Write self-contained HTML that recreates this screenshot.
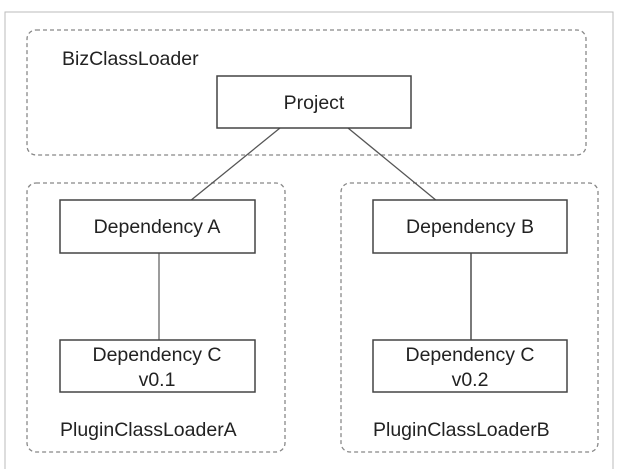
<!DOCTYPE html>
<html><head><style>
html,body{margin:0;padding:0;background:#fff;}
svg{display:block;}
text{font-family:"Liberation Sans",sans-serif;font-size:19.5px;fill:#222;}
</style></head><body>
<svg width="618" height="469" viewBox="0 0 618 469">
<rect x="5" y="12" width="608" height="460" fill="#fff" stroke="#bbb" stroke-width="1"/>
<rect x="27" y="30" width="559" height="125" rx="9" fill="none" stroke="#888" stroke-width="1.3" stroke-dasharray="4,3"/>
<rect x="27" y="183" width="258" height="269" rx="9" fill="none" stroke="#888" stroke-width="1.3" stroke-dasharray="4,3"/>
<rect x="341" y="183" width="257" height="269" rx="9" fill="none" stroke="#888" stroke-width="1.3" stroke-dasharray="4,3"/>
<text x="62" y="65">BizClassLoader</text>
<line x1="280" y1="128" x2="190" y2="201" stroke="#555" stroke-width="1.3"/>
<line x1="348" y1="128" x2="437" y2="201" stroke="#555" stroke-width="1.3"/>
<line x1="159" y1="253" x2="159" y2="340" stroke="#666" stroke-width="1.3"/>
<line x1="471" y1="253" x2="471" y2="340" stroke="#333" stroke-width="1.3"/>
<rect x="217" y="76" width="194" height="52" fill="#fff" stroke="#444" stroke-width="1.5"/>
<text x="314" y="109" text-anchor="middle">Project</text>
<rect x="60" y="200" width="195" height="53" fill="#fff" stroke="#444" stroke-width="1.5"/>
<text x="157" y="233" text-anchor="middle">Dependency A</text>
<rect x="373" y="200" width="194" height="53" fill="#fff" stroke="#444" stroke-width="1.5"/>
<text x="470" y="233" text-anchor="middle">Dependency B</text>
<rect x="60" y="340" width="195" height="52" fill="#fff" stroke="#444" stroke-width="1.5"/>
<text x="157" y="361" text-anchor="middle">Dependency C</text>
<text x="157" y="386" text-anchor="middle">v0.1</text>
<rect x="373" y="340" width="194" height="52" fill="#fff" stroke="#444" stroke-width="1.5"/>
<text x="470" y="361" text-anchor="middle">Dependency C</text>
<text x="470" y="386" text-anchor="middle">v0.2</text>
<text x="60" y="436">PluginClassLoaderA</text>
<text x="373" y="436">PluginClassLoaderB</text>
</svg>
</body></html>
